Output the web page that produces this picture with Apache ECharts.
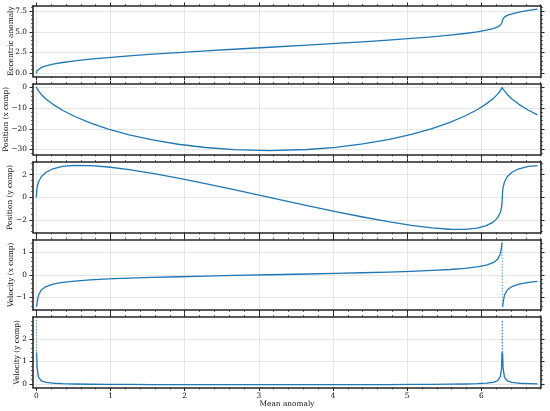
<!DOCTYPE html>
<html><head><meta charset="utf-8">
<script src="https://cdn.jsdelivr.net/npm/echarts@6/dist/echarts.min.js"></script>
<style>html,body{margin:0;padding:0;background:#fff}#c{width:550px;height:411px}</style>
</head><body><div id="c"></div>
<script>
// ---- data ----
const meanAnomaly = [0, 0.0009, 0.0042, 0.0095, 0.0287, 0.0667, 0.130, 0.224, 0.353, 0.519, 0.725, 0.970, 1.251, 1.567, 1.912, 2.280, 2.665, 3.142, 3.651, 4.035, 4.401, 4.744, 5.057, 5.335, 5.577, 5.779, 5.943, 6.068, 6.160, 6.221, 6.257, 6.272, 6.279, 6.2823, 6.2832, 6.2840, 6.2874, 6.2927, 6.3119, 6.3499, 6.4132, 6.5071, 6.6360, 6.7574];
const eccentricAnomaly = [0, 0.05, 0.185, 0.3, 0.5, 0.7, 0.9, 1.1, 1.3, 1.5, 1.7, 1.9, 2.1, 2.3, 2.5, 2.7, 2.9, 3.142, 3.4, 3.6, 3.8, 4.0, 4.2, 4.4, 4.6, 4.8, 5.0, 5.2, 5.4, 5.6, 5.8, 5.95, 6.098, 6.233, 6.283, 6.333, 6.468, 6.583, 6.783, 6.983, 7.183, 7.383, 7.583, 7.733];
const positionX = [0.261, 0.242, 0.0, -0.425, -1.621, -3.355, -5.558, -8.142, -11.004, -14.031, -17.100, -20.091, -22.883, -25.366, -27.440, -29.023, -30.052, -30.499, -29.988, -28.911, -27.284, -25.172, -22.659, -19.845, -16.843, -13.773, -10.756, -7.913, -5.357, -3.190, -1.499, -0.588, 0.0, 0.242, 0.261, 0.242, 0.0, -0.425, -1.621, -3.355, -5.558, -8.142, -11.004, -13.265];
const positionY = [0, 0.141, 0.521, 0.836, 1.357, 1.823, 2.217, 2.522, 2.727, 2.823, 2.806, 2.678, 2.443, 2.110, 1.694, 1.209, 0.677, 0, -0.723, -1.252, -1.732, -2.142, -2.467, -2.693, -2.812, -2.819, -2.714, -2.500, -2.187, -1.786, -1.315, -0.927, -0.521, -0.141, 0, 0.141, 0.521, 0.836, 1.357, 1.823, 2.217, 2.522, 2.727, 2.809];
const velocityX = [null, null, -1.424, -1.269, -0.913, -0.679, -0.527, -0.421, -0.342, -0.280, -0.230, -0.188, -0.151, -0.118, -0.088, -0.059, -0.032, 0, 0.034, 0.062, 0.090, 0.121, 0.154, 0.191, 0.234, 0.285, 0.348, 0.428, 0.537, 0.695, 0.938, 1.202, 1.424, null, null, null, -1.424, -1.269, -0.913, -0.679, -0.527, -0.421, -0.342, -0.294];
const velocityY = [null, null, 1.399, 0.755, 0.307, 0.148, 0.077, 0.039, 0.018, 0.004, -0.006, -0.012, -0.016, -0.019, -0.022, -0.023, -0.024, -0.024, -0.024, -0.023, -0.021, -0.019, -0.016, -0.011, -0.005, 0.005, 0.019, 0.042, 0.081, 0.157, 0.329, 0.638, 1.399, null, null, null, 1.399, 0.755, 0.307, 0.148, 0.077, 0.039, 0.018, 0.007];
// sparse (dotted) steep stretches
const vxJumpM = [6.279, 6.2823, 6.2832, 6.2840, 6.2874];
const vxJump = [1.424, 0.717, 0, -0.717, -1.424];
const vyPeakStartM = [0, 0.0009, 0.0042];
const vyPeakStart = [2.83, 2.636, 1.399];
const vyPeakM = [6.279, 6.2823, 6.2832, 6.2840, 6.2874];
const vyPeak = [1.399, 2.636, 2.83, 2.636, 1.399];
const xTicks = [0, 1, 2, 3, 4, 5, 6];
const panelNames = ['Eccentric anomaly', 'Position (x comp)', 'Position (y comp)', 'Velocity (x comp)', 'Velocity (y comp)'];
const yTicks = [[0, 2.5, 5, 7.5], [-30, -20, -10, 0], [-2, 0, 2], [-1, 0, 1], [0, 1, 2]];
const xLabel = 'Mean anomaly';

// ---- layout / style ----
const XMIN = -0.045, XMAX = 6.805;
const yRanges = [[-0.39, 8.12], [-32.4, 1.7], [-3.1, 3.12], [-1.57, 1.57], [-0.15, 2.97]];
const yStep = [2.5, 10, 2, 1, 1];
const yMinorSplit = [5, 5, 4, 5, 5];
const nameGaps = [18.5, 23.5, 19, 18.5, 12];
const tops = [6, 84, 162, 239.5, 317];
const H = 70.5;
const FONT = 'DejaVu Serif';
const FS = 7.4;
const SPINE = '#262626';
const LINE = '#1f77b4';

function fmtY(i) {
  return v => {
    const s = i === 0 ? v.toFixed(1) : String(Math.round(v));
    return s.replace('-', '\u2212');
  };
}
const grids = [], xAxes = [], yAxes = [], series = [];
for (let i = 0; i < 5; i++) {
  grids.push({left: 33, right: 9, top: tops[i], height: H, containLabel: false, outerBoundsMode: 'none'});
  ['bottom', 'top'].forEach((pos, k) => {
    const showLab = (i === 4 && pos === 'bottom');
    xAxes.push({
      type: 'value', gridIndex: i, position: pos, min: XMIN, max: XMAX,
      minInterval: 1, maxInterval: 1, splitNumber: 7,
      name: showLab ? xLabel : '', nameLocation: 'middle', nameGap: 13, nameMoveOverlap: false,
      nameTextStyle: {fontFamily: FONT, fontSize: FS, color: '#111'},
      axisLine: {show: true, onZero: false, lineStyle: {color: SPINE, width: 1.6}},
      axisTick: {show: true, inside: false, length: 3.5, customValues: xTicks, lineStyle: {color: SPINE, width: 1}},
      minorTick: {show: true, splitNumber: 5, length: 2, lineStyle: {color: SPINE, width: 0.7}},
      axisLabel: {show: showLab, customValues: xTicks, margin: 5, fontFamily: FONT, fontSize: FS, color: '#111',
                  formatter: v => String(Math.round(v))},
      splitLine: {show: k === 0, lineStyle: {color: '#e0e0e0', width: 0.8}},
      minorSplitLine: {show: false}
    });
  });
  ['left', 'right'].forEach((pos, k) => {
    yAxes.push({
      type: 'value', gridIndex: i, position: pos, min: yRanges[i][0], max: yRanges[i][1],
      minInterval: yStep[i], maxInterval: yStep[i], splitNumber: 4,
      name: k === 0 ? panelNames[i] : '', nameLocation: 'middle', nameGap: nameGaps[i], nameMoveOverlap: false,
      nameTextStyle: {fontFamily: FONT, fontSize: FS, color: '#111'},
      axisLine: {show: true, onZero: false, lineStyle: {color: SPINE, width: 1.6}},
      axisTick: {show: true, inside: false, length: 3.5, customValues: yTicks[i], lineStyle: {color: SPINE, width: 1}},
      minorTick: {show: true, splitNumber: yMinorSplit[i], length: 2, lineStyle: {color: SPINE, width: 0.7}},
      axisLabel: {show: k === 0, customValues: yTicks[i], margin: 6, fontFamily: FONT, fontSize: FS, color: '#111',
                  formatter: fmtY(i)},
      splitLine: {show: k === 0, lineStyle: {color: '#e0e0e0', width: 0.8}},
      minorSplitLine: {show: false}
    });
  });
}
function pairs(xs, ys) { return xs.map((x, j) => [x, ys[j] === null ? '-' : ys[j]]); }
const valueSets = [eccentricAnomaly, positionX, positionY, velocityX, velocityY];
valueSets.forEach((vals, i) => {
  series.push({
    type: 'line', xAxisIndex: 2 * i, yAxisIndex: 2 * i, data: pairs(meanAnomaly, vals),
    showSymbol: false, symbol: 'none', smooth: false,
    lineStyle: {color: LINE, width: 1.3, join: 'round'}, connectNulls: false, clip: true, z: 3
  });
});
const dotted = {color: LINE, width: 1.2, type: [1, 2], opacity: 0.85};
[[6, vxJumpM, vxJump], [8, vyPeakStartM, vyPeakStart], [8, vyPeakM, vyPeak]].forEach(([ax, xs, ys]) => {
  series.push({
    type: 'line', xAxisIndex: ax, yAxisIndex: ax, data: pairs(xs, ys),
    showSymbol: false, symbol: 'none', lineStyle: dotted, z: 3
  });
});
const chart = echarts.init(document.getElementById('c'), null, {renderer: 'canvas'});
chart.setOption({
  backgroundColor: '#ffffff', animation: false,
  grid: grids, xAxis: xAxes, yAxis: yAxes, series: series
});
</script></body></html>
